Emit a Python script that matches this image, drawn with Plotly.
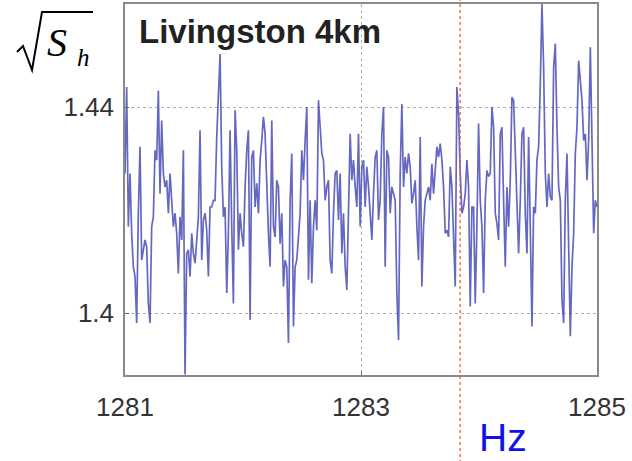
import numpy as np
import plotly.graph_objects as go

# ---- data ----
freq_start = 1281.0
freq_end = 1285.0
asd_values = [
    # 1281.0 .. ~1281.97
    1.4271, 1.4439, 1.4168, 1.4271, 1.4155, 1.4090, 1.4071, 1.3981, 1.4194, 1.4323,
    1.4103, 1.4123, 1.4142, 1.4129, 1.4019, 1.3981, 1.4168, 1.4187, 1.4316, 1.4297,
    1.4432, 1.4232, 1.4374, 1.4271, 1.4245, 1.4258, 1.4194, 1.4271, 1.4213, 1.4168,
    1.4194, 1.4155, 1.4077, 1.4187, 1.4142, 1.4316, 1.3881, 1.4116, 1.4123, 1.4071,
    1.4155, 1.4116, 1.4097, 1.4155, 1.4187, 1.4355, 1.4103, 1.4181, 1.4194, 1.4161,
    1.4071, 1.4206, 1.4206, 1.4219, 1.4219, 1.4342, 1.4413, 1.4503, 1.4284, 1.4187,
    1.4206, 1.4039, 1.4155, 1.4355, 1.4168, 1.4019, 1.4394, 1.4316, 1.4123,
    # ~1281.97 .. ~1282.98
    1.4194, 1.4155, 1.4129, 1.4245, 1.4316, 1.4355, 1.3987, 1.4303, 1.4316, 1.4206,
    1.4252, 1.4194, 1.4297, 1.4335, 1.4381, 1.4348, 1.4245, 1.4155, 1.4090, 1.4374,
    1.4168, 1.4148, 1.4258, 1.4245, 1.4135, 1.4194, 1.4052, 1.4103, 1.4090, 1.3942,
    1.4219, 1.4310, 1.3974, 1.4090, 1.4103, 1.4155, 1.4194, 1.4316, 1.4258, 1.4335,
    1.4400, 1.4065, 1.4219, 1.4058, 1.4168, 1.4219, 1.4161, 1.4413, 1.4361, 1.4310,
    1.4297, 1.4219, 1.4245, 1.4258, 1.4103, 1.4077, 1.4194, 1.4271, 1.4277, 1.4181,
    1.4271, 1.4116, 1.4194, 1.4090, 1.4045, 1.4219, 1.4348, 1.4258, 1.4297, 1.4245,
    1.4206, 1.4348,
    # ~1282.99 .. ~1283.99
    1.4168, 1.4284, 1.4297, 1.4206, 1.4284, 1.4245, 1.4194, 1.4142, 1.4232, 1.4303,
    1.4316, 1.4181, 1.4219, 1.4348, 1.4400, 1.4090, 1.4316, 1.4303, 1.4194, 1.4245,
    1.4232, 1.4219, 1.4039, 1.3948, 1.4271, 1.4406, 1.4245, 1.4303, 1.4271, 1.4310,
    1.4284, 1.4213, 1.4232, 1.4258, 1.4168, 1.4103, 1.4342, 1.4052, 1.4168, 1.4219,
    1.4232, 1.4245, 1.4219, 1.4290, 1.4232, 1.4271, 1.4323, 1.4303, 1.4329, 1.4297,
    1.4245, 1.4155, 1.4161, 1.4148, 1.4284, 1.4245, 1.4155, 1.4052, 1.4439, 1.4387,
    1.4271, 1.4194, 1.4206, 1.4232, 1.4297, 1.4245, 1.4013, 1.4206, 1.4206, 1.4019,
    1.4168, 1.4368,
    # ~1284.0 .. 1285.0
    1.4219, 1.4168, 1.4039, 1.4219, 1.4277, 1.4265, 1.4271, 1.4400, 1.4361, 1.4194,
    1.4174, 1.4142, 1.4348, 1.4361, 1.4219, 1.4090, 1.4245, 1.4168, 1.4258, 1.4419,
    1.4413, 1.4316, 1.4219, 1.4116, 1.4219, 1.4348, 1.4361, 1.4194, 1.4116, 1.4342,
    1.4168, 1.3974, 1.4206, 1.4194, 1.4297, 1.4323, 1.4445, 1.4600, 1.4477, 1.4271,
    1.4206, 1.4271, 1.4226, 1.4219, 1.4477, 1.4523, 1.4361, 1.4245, 1.4219, 1.4026,
    1.3981, 1.4219, 1.4310, 1.4103, 1.3955, 1.4090, 1.4155, 1.4310, 1.4361, 1.4490,
    1.4445, 1.4413, 1.4335, 1.4348, 1.4258, 1.4335, 1.4516, 1.4310, 1.4155, 1.4219,
    1.4206,
]
x_tick_vals = [1281, 1283, 1285]
x_tick_text = ["1281", "1283", "1285"]
y_tick_vals = [1.40, 1.44]
y_tick_text = ["1.4", "1.44"]
marker_freq = 1283.84
title_text = "Livingston 4km"
unit_text = "Hz"

freqs = np.linspace(freq_start, freq_end, len(asd_values))

# ---- layout geometry (pixels) ----
W, H = 632, 461
ML, MR, MT, MB = 125, 35, 4, 86
PW, PH = W - ML - MR, H - MT - MB


def px(x):
    return (x - ML) / PW


def py(y):
    return (H - MB - y) / PH


fig = go.Figure()
fig.add_trace(go.Scatter(
    x=freqs, y=asd_values, mode="lines",
    line=dict(color="rgba(62,66,178,0.8)", width=1.7),
    hoverinfo="skip", showlegend=False,
))

axis_common = dict(
    showline=True, linecolor="#8a8a8a", linewidth=1.5, mirror=True,
    showgrid=True, gridcolor="#b0b0b0", griddash="dot", gridwidth=1.2,
    zeroline=False, ticks="inside", ticklen=4, tickcolor="#666",
    automargin=False,
    tickfont=dict(family="Liberation Sans, Arial, sans-serif", size=26, color="#333333"),
)
fig.update_layout(
    width=W, height=H,
    margin=dict(l=ML, r=MR, t=MT, b=MB, autoexpand=False),
    paper_bgcolor="white", plot_bgcolor="white",
    xaxis=dict(range=[freq_start, freq_end], tickvals=x_tick_vals, ticktext=x_tick_text,
               ticklabelstandoff=8, **axis_common),
    yaxis=dict(range=[1.388, 1.46], tickvals=y_tick_vals, ticktext=y_tick_text,
               ticklabelstandoff=4, **axis_common),
)

# red dotted marker line spanning the whole image height
fig.add_shape(type="line", xref="x", yref="paper", x0=marker_freq, x1=marker_freq,
              y0=py(H + 2), y1=py(-2), line=dict(color="#ff4a1a", width=1.2, dash="dot"),
              layer="above")

# title inside plot
fig.add_annotation(xref="paper", yref="paper", x=px(137), y=py(31), xanchor="left",
                   yanchor="middle", showarrow=False, text="<b>" + title_text + "</b>",
                   font=dict(family="Liberation Sans, Arial, sans-serif", size=33, color="#222222"))

# Hz label
fig.add_annotation(xref="paper", yref="paper", x=px(503), y=py(437), xanchor="center",
                   yanchor="middle", showarrow=False, text=unit_text,
                   font=dict(family="Liberation Sans, Arial, sans-serif", size=39, color="#1010ee"))

# sqrt(S_h) label: radical drawn as path, S_h as text
pts = [(17, 52), (23, 46), (32, 70), (42, 12), (93, 12)]
path = "M " + " L ".join(f"{px(a):.5f},{py(b):.5f}" for a, b in pts)
fig.add_shape(type="path", xref="paper", yref="paper", path=path,
              line=dict(color="black", width=2))
fig.add_annotation(xref="paper", yref="paper", x=px(45), y=py(42), xanchor="left",
                   yanchor="middle", showarrow=False,
                   text="<i>S</i>",
                   font=dict(family="Liberation Serif, Times New Roman, serif", size=40, color="black"))
fig.add_annotation(xref="paper", yref="paper", x=px(75), y=py(57), xanchor="left",
                   yanchor="middle", showarrow=False,
                   text="<i>h</i>",
                   font=dict(family="Liberation Serif, Times New Roman, serif", size=25, color="black"))

fig.write_html(
    "out.html",
    config={"displayModeBar": False},
    post_script="document.body.style.margin='0';document.body.style.overflow='hidden';",
)
